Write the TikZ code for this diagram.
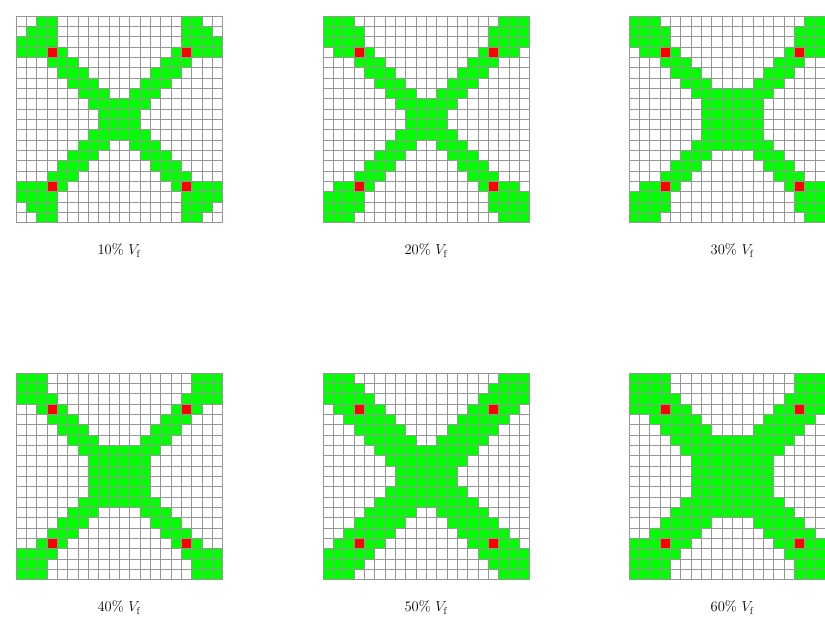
\documentclass[tikz,border=0pt]{standalone}
\usepackage{amsmath}
\definecolor{xanhla}{RGB}{0,255,0}
\definecolor{dotuoi}{RGB}{255,0,0}
\definecolor{xamluoi}{RGB}{150,150,150}
\begin{document}
\begin{tikzpicture}[scale=0.3617,font={\fontsize{14.5}{17}\selectfont},
	oxanh/.style={fill=xanhla},
	odo/.style={fill=dotuoi},
	luoi/.style={draw=xamluoi,line width=0.7pt}]
		%%Khung hình
		\useasboundingbox (0,0) rectangle (79.86,59.92);
		%%Mỗi lưới: gốc, tỉ lệ, các hàng của 1/4 lưới (hàng/cột đầu/cột cuối)
		\foreach \gx/\gy/\pct/\pat in {
			1.55/38.37/10/{0/2/3,1/1/3,2/0/3,3/0/4,4/3/5,5/4/6,6/5/7,7/6/8,8/7/9,9/8/9},
			31.27/38.37/20/{0/0/2,1/0/3,2/0/3,3/1/4,4/3/5,5/4/6,6/5/7,7/6/8,8/7/9,9/8/9},
			60.9/38.37/30/{0/0/2,1/0/3,2/0/3,3/1/4,4/3/5,5/4/6,6/5/7,7/6/9,8/7/9,9/7/9},
			1.55/3.81/40/{0/0/2,1/0/2,2/0/3,3/2/4,4/3/5,5/4/6,6/5/7,7/6/9,8/7/9,9/7/9},
			31.27/3.81/50/{0/0/2,1/0/3,2/0/4,3/1/5,4/2/6,5/3/7,6/4/8,7/5/9,8/6/9,9/7/9},
			60.9/3.81/60/{0/0/3,1/0/3,2/0/4,3/0/5,4/2/6,5/3/7,6/4/9,7/5/9,8/6/9,9/6/9}}
		{
		\begin{scope}[shift={(\gx,\gy)}]
			%%Tô đối xứng 4 góc
			\foreach \r/\a/\b in \pat {
				\fill[oxanh] (\a,19-\r) rectangle (\b+1,20-\r)
				(19-\b,19-\r) rectangle (20-\a,20-\r)
				(\a,\r) rectangle (\b+1,\r+1)
				(19-\b,\r) rectangle (20-\a,\r+1);
			}
			\fill[odo] (3,16) rectangle (4,17) (16,16) rectangle (17,17)
			(3,3) rectangle (4,4) (16,3) rectangle (17,4);
			\draw[luoi] (0,0) grid (20,20);
			\node (nhan\pct) at (10,-2.7) {\pct\% $V_{\mathrm{f}}$};
		\end{scope}
		}
	\end{tikzpicture}
\end{document}
